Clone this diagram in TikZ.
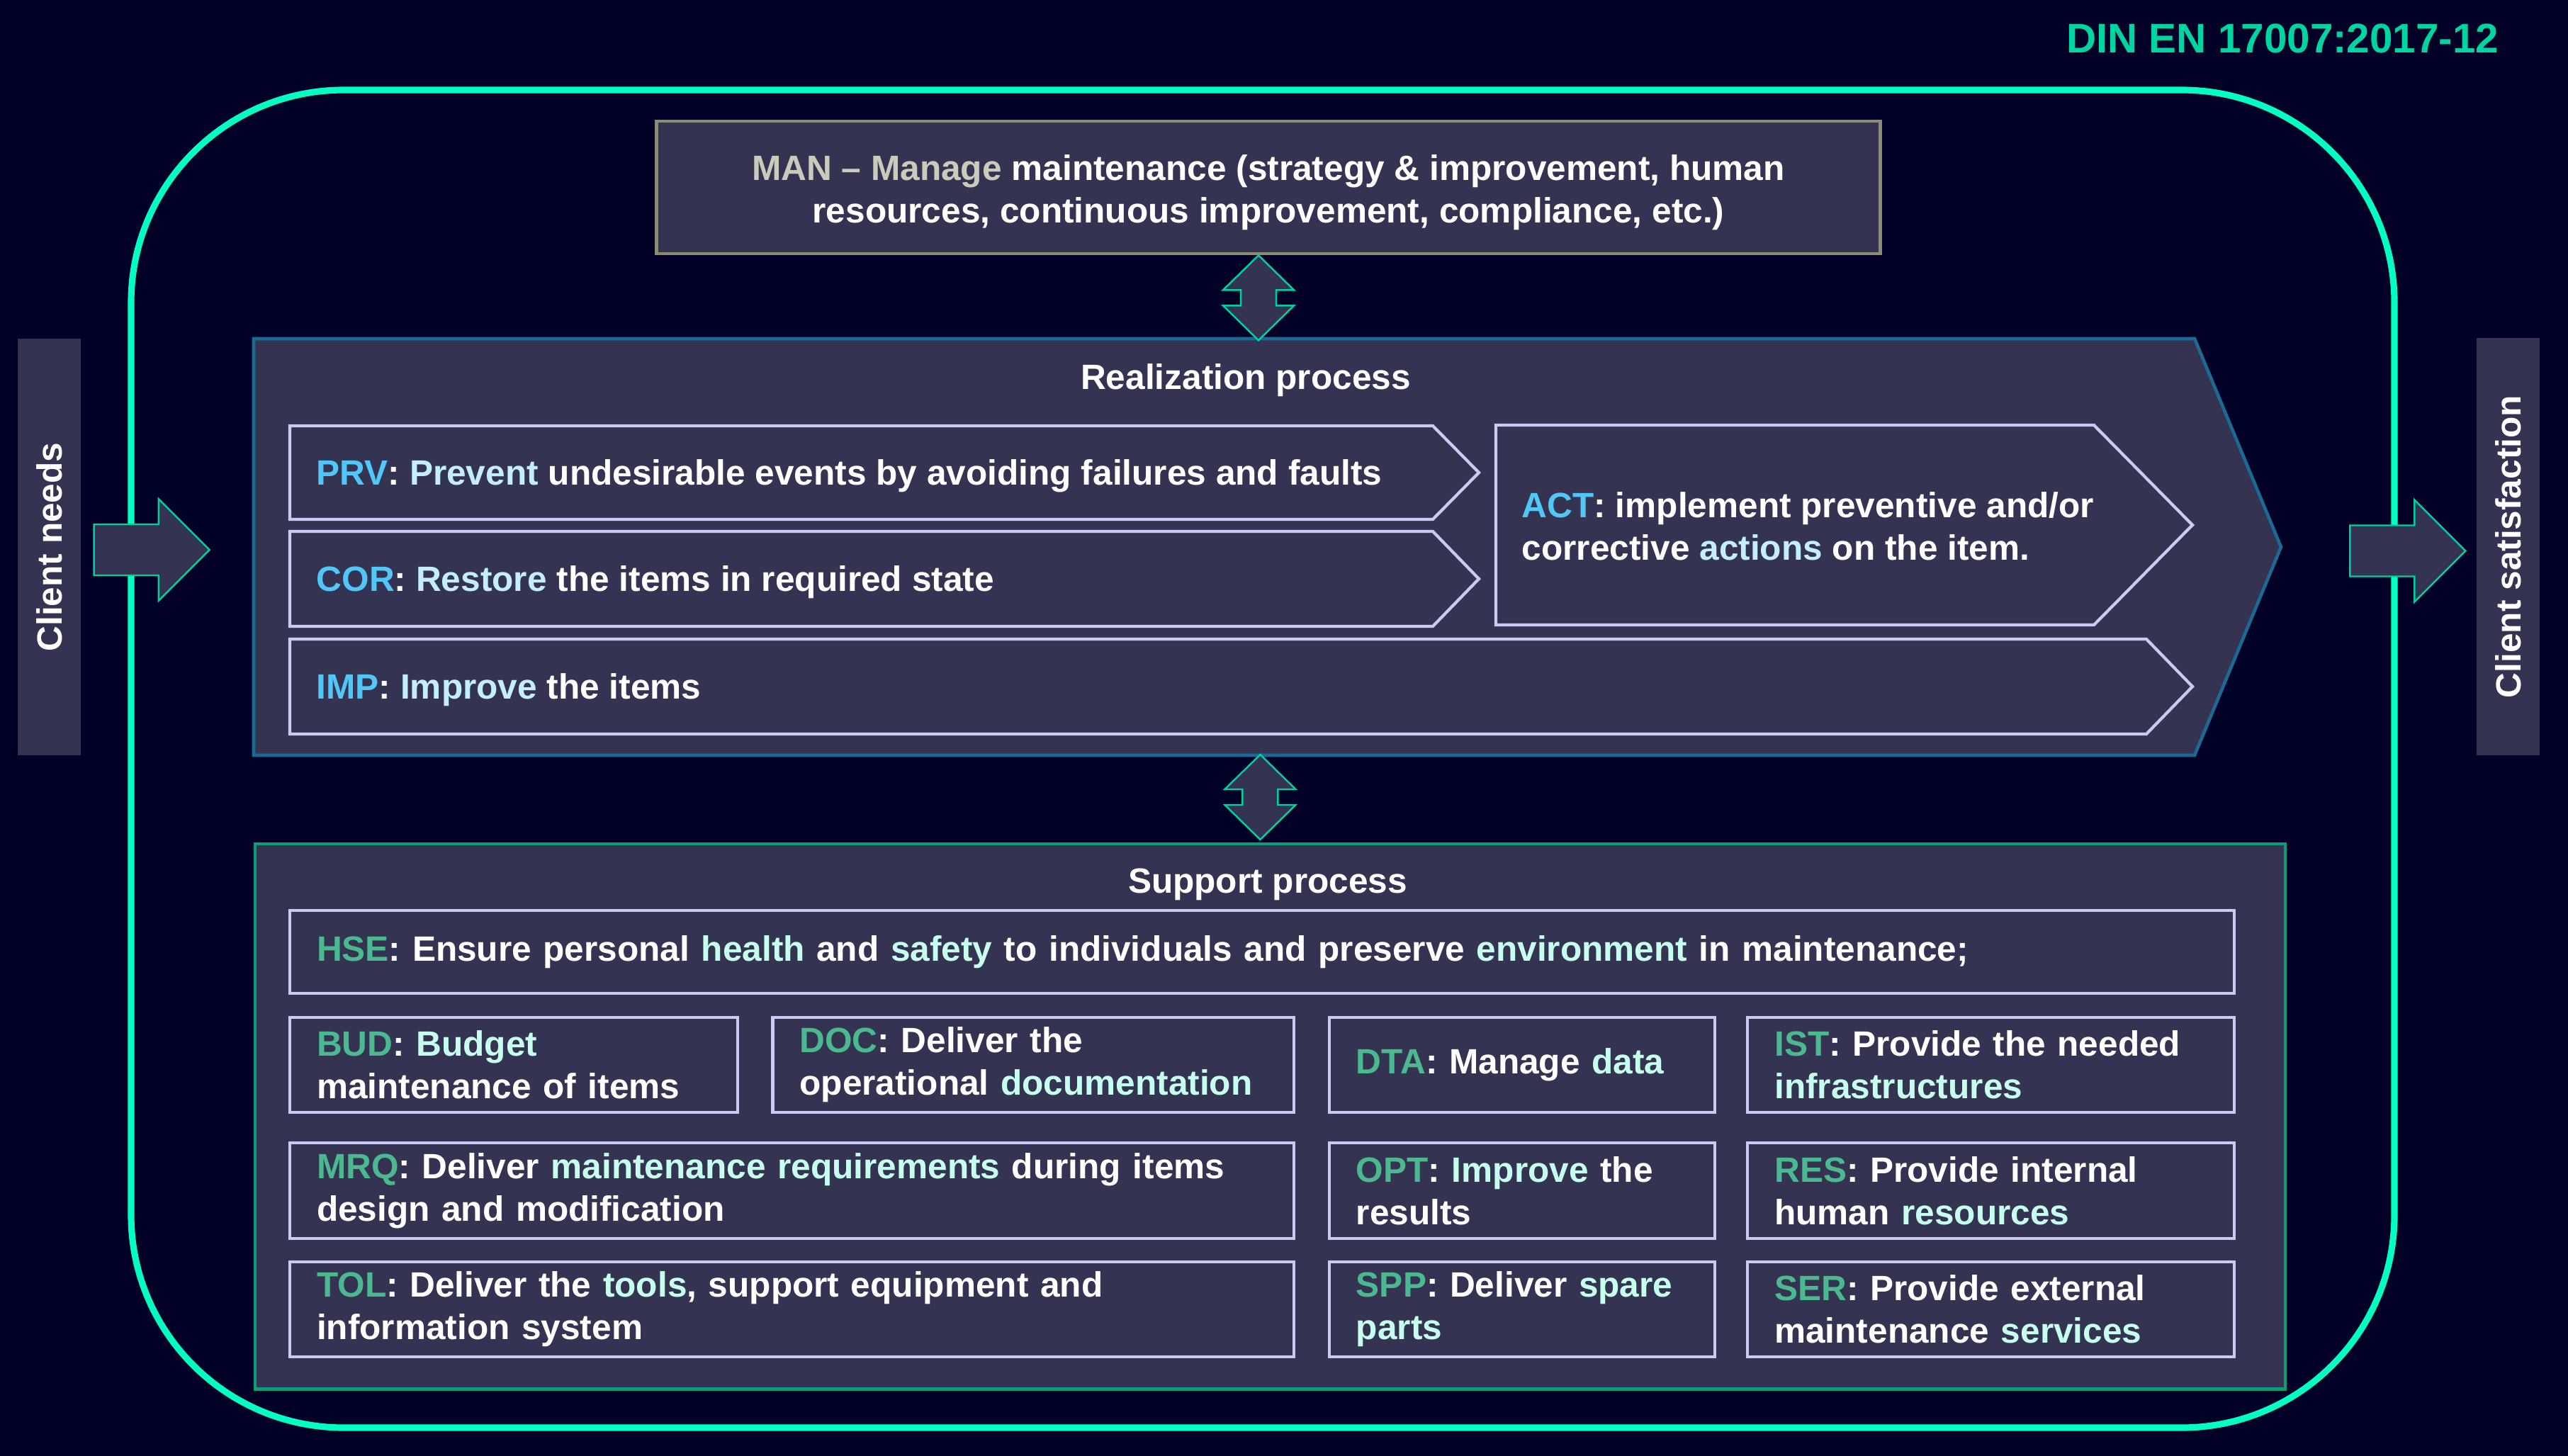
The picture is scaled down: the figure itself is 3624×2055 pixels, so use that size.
\documentclass[tikz,border=0pt]{standalone}
\usepackage{fontspec}
\setmainfont{Liberation Sans}
\usetikzlibrary{arrows.meta,positioning,calc}

\definecolor{bgnavy}{HTML}{010128}
\definecolor{panel}{HTML}{343452}
\definecolor{framegreen}{HTML}{00FFC0}
\definecolor{arrowgreen}{HTML}{00CFA0}
\definecolor{realblue}{HTML}{1A6A94}
\definecolor{suppgreen}{HTML}{0E9C78}
\definecolor{boxlilac}{HTML}{CACAF2}
\definecolor{manolive}{HTML}{8C8C72}
\definecolor{manbeige}{HTML}{CBCBBC}
\definecolor{realabbr}{HTML}{52C6F6}
\definecolor{realword}{HTML}{C4EEFF}
\definecolor{suppabbr}{HTML}{4CB890}
\definecolor{suppword}{HTML}{C6FFEE}
\definecolor{dingreen}{HTML}{00D4A0}

\newcommand{\manab}[1]{\textcolor{manbeige}{#1}}
\newcommand{\realab}[1]{\textcolor{realabbr}{#1}}
\newcommand{\realhl}[1]{\textcolor{realword}{#1}}
\newcommand{\suppab}[1]{\textcolor{suppabbr}{#1}}
\newcommand{\supphl}[1]{\textcolor{suppword}{#1}}

% block arrows (vertical double and right-pointing)
\newcommand{\updownarr}[1]{%
  \draw[blockarr] ($(#1)+(0,-60)$) -- ++(50,49) -- ++(-25,0) -- ++(0,22) -- ++(25,0)
    -- ++(-50,49) -- ++(-50,-49) -- ++(25,0) -- ++(0,-22) -- ++(-25,0) -- cycle;}
\newcommand{\rightarr}[1]{%
  \draw[blockarr] ($(#1)+(0,-36)$) -- ++(91,0) -- ++(0,-36) -- ++(72,72)
    -- ++(-72,72) -- ++(0,-36) -- ++(-91,0) -- cycle;}

\begin{document}
\begin{tikzpicture}[
  x=0.01cm, y=-0.01cm,
  every node/.style={font=\fontsize{14.1}{17}\selectfont\bfseries, text=white},
  blockarr/.style={draw=arrowgreen, line width=0.7pt, fill=panel},
  sidebox/.style={rectangle, fill=panel, rotate=90, minimum width=5.88cm,
    minimum height=0.89cm, inner sep=0pt},
  chevron/.style={draw=boxlilac, line width=1.2pt, fill=panel},
  sbox/.style={rectangle, draw=boxlilac, line width=1.2pt, fill=panel,
    align=left, inner xsep=0.38cm, inner ysep=0pt, outer sep=0pt}
]
\useasboundingbox (0,0) rectangle (3624,2055);
\fill[bgnavy] (0,0) rectangle (3624,2055);

% outer frame
\draw[framegreen, line width=2.6pt, rounded corners=3cm] (185,127) rectangle (3379,2015);
\node[text=dingreen, anchor=east, inner sep=0pt, font=\fontsize{16.6}{20}\selectfont\bfseries] (din) at (3527,54) {DIN EN 17007:2017-12};

% client boxes
\node[sidebox] (needs) at (69.5,772) {Client needs};
\node[sidebox] (satis) at (3539.5,771.5) {Client satisfaction};
\rightarr{$(needs.south)+(18,4)$}
\rightarr{$(satis.north)+(-178,6)$}

% management
\node[draw=manolive, line width=1.3pt, fill=panel, minimum width=17.26cm,
  minimum height=1.87cm] (man) at (1790,264.5) {};
\node[align=center] (mantxt) at ($(man.center)+(0,7)$)
  {\manab{MAN -- Manage} maintenance (strategy \& improvement, human\\
   resources, continuous improvement, compliance, etc.)};

% realization process
\draw[draw=realblue, line width=1.3pt, fill=panel]
  (358,478) -- (3097,478) -- (3219,772) -- (3097,1066) -- (358,1066) -- cycle;
\updownarr{$(man.south)+(-14,60)$}
\node[anchor=base] (realt) at (1758,550) {Realization process};

\draw[chevron] (409,601) -- (2022,601) -- (2087,667) -- (2022,733) -- (409,733) -- cycle;
\draw[chevron] (409,750) -- (2022,750) -- (2087,817) -- (2022,884) -- (409,884) -- cycle;
\draw[chevron] (409,902) -- (3029,902) -- (3094,969) -- (3029,1036) -- (409,1036) -- cycle;
\draw[chevron] (2111,600) -- (2955,600) -- (3094,741) -- (2955,882) -- (2111,882) -- cycle;
\node[anchor=base west, inner sep=0pt] (prv) at (446,684)
  {\realab{PRV}: \realhl{Prevent} undesirable events by avoiding failures and faults};
\node[anchor=base west, inner sep=0pt] (cor) at (446,834)
  {\realab{COR}: \realhl{Restore} the items in required state};
\node[anchor=base west, inner sep=0pt] (imp) at (446,986)
  {\realab{IMP}: \realhl{Improve} the items};
\node[anchor=west, align=left, inner sep=0pt] (act) at (2147,743)
  {\realab{ACT}: implement preventive and/or\\corrective \realhl{actions} on the item.};

% support process
\node[draw=suppgreen, line width=1.2pt, fill=panel, minimum width=28.63cm,
  minimum height=7.69cm, anchor=north west, inner sep=0pt] (supp) at (358,1189) {};
\updownarr{$(supp.north)+(-14,-64)$}
\node[anchor=base] (suppt) at (1789,1260) {Support process};

\node[sbox, anchor=north west, text width=26.66cm, minimum height=1.17cm] (hse) at (409,1285)
  {\suppab{HSE}: Ensure personal \supphl{health} and \supphl{safety} to individuals and preserve \supphl{environment} in maintenance;};

\node[sbox, anchor=north west, text width=5.56cm, minimum height=1.34cm] (bud) at (409,1436)
  {\suppab{BUD}: \supphl{Budget}\\maintenance of items};
\node[sbox, text width=6.59cm, minimum height=1.34cm, right=0.49cm of bud] (doc)
  {\suppab{DOC}: Deliver the\\operational \supphl{documentation}};
\node[sbox, text width=4.68cm, minimum height=1.34cm, right=0.5cm of doc] (dta)
  {\suppab{DTA}: Manage \supphl{data}};
\node[sbox, text width=6.10cm, minimum height=1.34cm, right=0.46cm of dta] (ist)
  {\suppab{IST}: Provide the needed\\\supphl{infrastructures}};

\node[sbox, anchor=north west, text width=13.40cm, minimum height=1.35cm] (mrq) at (409,1613)
  {\suppab{MRQ}: Deliver \supphl{maintenance requirements} during items\\design and modification};
\node[sbox, text width=4.68cm, minimum height=1.35cm, right=0.5cm of mrq] (opt)
  {\suppab{OPT}: \supphl{Improve} the\\results};
\node[sbox, text width=6.10cm, minimum height=1.35cm, right=0.46cm of opt] (res)
  {\suppab{RES}: Provide internal\\human \supphl{resources}};

\node[sbox, anchor=north west, text width=13.40cm, minimum height=1.34cm] (tol) at (409,1781)
  {\suppab{TOL}: Deliver the \supphl{tools}, support equipment and\\information system};
\node[sbox, text width=4.68cm, minimum height=1.34cm, right=0.5cm of tol] (spp)
  {\suppab{SPP}: Deliver \supphl{spare}\\\supphl{parts}};
\node[sbox, text width=6.10cm, minimum height=1.34cm, right=0.46cm of spp] (ser)
  {\suppab{SER}: Provide external\\maintenance \supphl{services}};
\end{tikzpicture}
\end{document}
